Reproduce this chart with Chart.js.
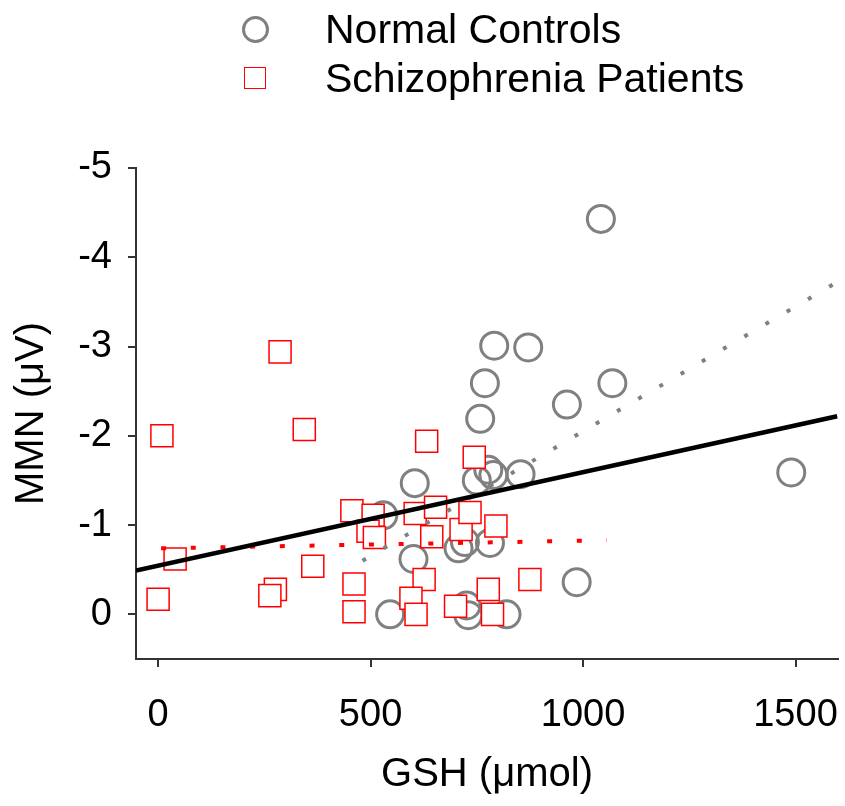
<!DOCTYPE html>
<html>
<head>
<meta charset="utf-8">
<title>MMN vs GSH</title>
<script src="https://cdn.jsdelivr.net/npm/chart.js@4.4.0/dist/chart.umd.min.js"></script>
<style>
body{margin:0;background:#fff;font-family:"Liberation Sans",Arial,sans-serif;}
#wrap{position:relative;width:845px;height:806px;}
#chartMMN{position:absolute;left:0;top:0;}
.leg{position:absolute;left:325px;font-size:41px;line-height:41px;color:#000;white-space:nowrap;}
.mk{position:absolute;box-sizing:border-box;}
</style>
</head>
<body>
<div id="wrap">
  <canvas id="chartMMN" width="845" height="806"></canvas>
  <div id="legendBox"></div>
</div>
<script>
// === DATI ===
const seriesNames=["Normal Controls","Schizophrenia Patients"];

// controlli (cerchi grigi)
const ctrlGSH=[1042,791,871,1069,769,962,758,1490,853,777,789,750,604,530,601,707,722,781,985,546,726,730,820];
const ctrlMMN=[-4.43,-3.01,-2.99,-2.59,-2.59,-2.35,-2.19,-1.59,-1.57,-1.62,-1.56,-1.50,-1.47,-1.11,-0.62,-0.74,-0.81,-0.80,-0.36,0.0,-0.10,0.01,0.0];

// pazienti (quadrati rossi)
const patGSH=[9,287,344,632,744,40,0,276,263,364,461,461,456,506,494,509,605,653,644,713,734,795,626,595,607,700,777,787,875];
const patMMN=[-2.00,-2.94,-2.07,-1.94,-1.76,-0.62,-0.17,-0.28,-0.21,-0.54,-0.34,-0.03,-1.16,-1.11,-0.93,-0.86,-1.13,-1.20,-0.87,-0.95,-1.14,-0.99,-0.39,-0.18,0.0,-0.09,-0.28,0.0,-0.39];

// rette di regressione (estremi)
const fitAllGSH=[-52,1598],  fitAllMMN=[-0.49,-2.22];
const fitCtrlGSH=[481,1590], fitCtrlMMN=[-0.60,-3.70];
const fitPatGSH=[7,1056],    fitPatMMN=[-0.74,-0.83];

// tick
const xTicks=[0,500,1000,1500];
const yTicks=[-5,-4,-3,-2,-1,0];

const GRAY="#808080", RED="#ff0000";
const toPts=(xs,ys)=>xs.map((x,i)=>({x:x,y:ys[i]}));

// === LEGENDA ===
function buildLegend(){
  const box=document.getElementById("legendBox");
  box.innerHTML=
    `<div class="mk" style="left:242px;top:16px;width:27px;height:27px;border:3px solid ${GRAY};border-radius:50%"></div>`+
    `<div class="leg" style="top:9px">${seriesNames[0]}</div>`+
    `<div class="mk" style="left:244px;top:67px;width:22px;height:22px;border:1.5px solid ${RED}"></div>`+
    `<div class="leg" style="top:58px">${seriesNames[1]}</div>`;
}

// === GRAFICO ===
Chart.defaults.font.family='"Liberation Sans", Arial, sans-serif';
Chart.defaults.color="#000";

function drawChart(){
  const ctx=document.getElementById("chartMMN");
  new Chart(ctx,{type:"scatter",
    data:{datasets:[
      {label:"fitAll",data:toPts(fitAllGSH,fitAllMMN),showLine:true,borderColor:"#000",borderWidth:4.5,pointRadius:0,order:0},
      {label:"fitCtrl",data:toPts(fitCtrlGSH,fitCtrlMMN),showLine:true,borderColor:GRAY,borderWidth:4,borderDash:[4,20.6],borderCapStyle:"butt",pointRadius:0,order:0},
      {label:"fitPat",data:toPts(fitPatGSH,fitPatMMN),showLine:true,borderColor:RED,borderWidth:4,borderDash:[5,24.7],borderCapStyle:"butt",pointRadius:0,order:0},
      {label:seriesNames[1],data:toPts(patGSH,patMMN),pointStyle:"rect",pointRadius:15.6,pointBorderWidth:1.5,
        pointBorderColor:RED,pointBackgroundColor:"#fff",order:1},
      {label:seriesNames[0],data:toPts(ctrlGSH,ctrlMMN),pointStyle:"circle",pointRadius:13.5,pointBorderWidth:3,
        pointBorderColor:GRAY,pointBackgroundColor:"rgba(0,0,0,0)",order:2}
    ]},
    options:{responsive:false,animation:false,
      layout:{autoPadding:false,padding:{top:168,right:7,left:0,bottom:0}},
      plugins:{legend:{display:false},tooltip:{enabled:false}},
      scales:{
        x:{type:"linear",min:-52,max:1600,
          afterBuildTicks:s=>{s.ticks=xTicks.map(v=>({value:v}));},
          afterFit:s=>{s.height=147;s.paddingLeft=0;s.paddingRight=0;},
          ticks:{callback:v=>String(v),font:{size:38},color:"#000",padding:26,maxRotation:0,autoSkip:false},
          grid:{drawOnChartArea:false,tickLength:8,color:"#333",lineWidth:2},
          border:{color:"#333",width:2},
          title:{display:true,text:"GSH (μmol)",font:{size:40},color:"#000",padding:{top:0,bottom:7}}
        },
        y:{type:"linear",min:-5,max:0.5,reverse:true,
          afterBuildTicks:s=>{s.ticks=yTicks.map(v=>({value:v}));},
          afterFit:s=>{s.width=136;s.paddingTop=0;s.paddingBottom=0;},
          ticks:{callback:v=>String(v),font:{size:38},color:"#000",padding:16,autoSkip:false},
          grid:{drawOnChartArea:false,tickLength:8,color:"#333",lineWidth:2},
          border:{color:"#333",width:2},
          title:{display:true,text:"MMN (μV)",font:{size:40},color:"#000",padding:{top:8,bottom:0}}
        }
      }
    }
  });
}

buildLegend();
drawChart();
</script>
</body>
</html>
